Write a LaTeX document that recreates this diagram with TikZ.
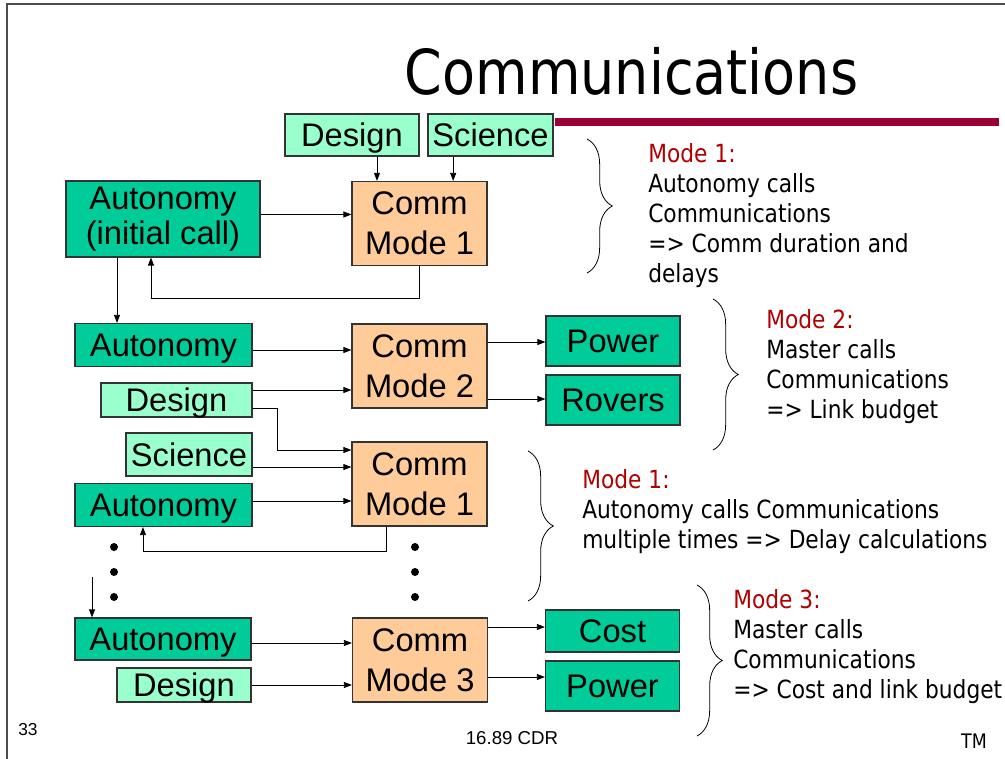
\documentclass[tikz,border=0pt]{standalone}
\usepackage{fontspec}
\setmainfont{Liberation Sans}
\newfontfamily\tahoma[FakeStretch=0.87]{DejaVu Sans}
\usetikzlibrary{arrows.meta,decorations.pathreplacing}
\definecolor{dkgreen}{HTML}{00CC99}
\definecolor{ltgreen}{HTML}{99FFCC}
\definecolor{commorange}{HTML}{FFCC99}
\definecolor{modered}{HTML}{B00000}
\definecolor{barred}{HTML}{990033}
\begin{document}
\begin{tikzpicture}[x=0.75pt,y=-0.75pt,
	box/.style={draw=black!80,line width=0.9pt,inner sep=0,align=center,
		font=\fontsize{24.5}{30}\selectfont},
	one/.style={text height=17.5pt,text depth=0pt},
	dkbox/.style={box,fill=dkgreen},
	ltbox/.style={box,fill=ltgreen,one},
	commbox/.style={box,fill=commorange,minimum width=101.25pt,minimum height=63pt},
	sz/.style 2 args={minimum width=#1,minimum height=#2},
	arr/.style={-{Triangle[length=6pt,width=4.5pt]},line width=0.6pt},
	brc/.style={decorate,decoration={brace,amplitude=19pt},line width=0.6pt},
	note/.style={anchor=north west,inner sep=0,align=left,
		font=\tahoma\fontsize{18.75}{22.5}\selectfont}]
\useasboundingbox (0,0) rectangle (1005,759);
\draw[black!70,line width=0.8pt] (7,759) -- (7,4) -- (1005,4);
\fill[barred] (555,118) rectangle (999,126);
\node[anchor=base,font=\tahoma\fontsize{46.5}{50}\selectfont] (title) at (631.5,95) {Communications};

\node[ltbox,sz={100.5pt}{31.5pt}] (dsg1) at (352,135) {Design};
\node[ltbox,sz={93.75pt}{31.5pt}] (sci1) at (490.5,135) {Science};
\node[dkbox,sz={145.5pt}{57pt},font=\fontsize{24.5}{26.25}\selectfont] (aut0) at (163,219) {Autonomy\\(initial call)};
\node[commbox] (cm1) at (419.5,223.5) {Comm\\Mode 1};
\draw[arr] ([xshift=18.75pt]dsg1.south) -- ([xshift=18.75pt]dsg1.south |- cm1.north);
\draw[arr] ([xshift=-28pt]sci1.south) -- ([xshift=-28pt]sci1.south |- cm1.north);
\draw[arr] ([yshift=3.4pt]aut0.east) -- ([yshift=3.4pt]aut0.east -| cm1.west);
\draw[arr] (cm1.south) -- ++(0,32) -| ([xshift=-9pt]aut0.south);

\node[dkbox,one,sz={132.75pt}{32.25pt}] (aut1) at (163.5,345) {Autonomy};
\node[ltbox,sz={113.25pt}{25.5pt}] (dsg2) at (176.5,400) {Design};
\node[commbox] (cm2) at (419.5,366) {Comm\\Mode 2};
\node[dkbox,one,sz={100.5pt}{37.5pt}] (pwr1) at (613,341) {Power};
\node[dkbox,one,sz={100.5pt}{37.5pt}] (rov) at (613,400) {Rovers};
\draw[arr] ([xshift=-34.5pt]aut0.south) -- ([xshift=-34.5pt]aut0.south |- aut1.north);
\draw[arr] ([yshift=-3.75pt]aut1.east) -- ([yshift=-3.75pt]aut1.east -| cm2.west);
\draw[arr] ([yshift=7.5pt]dsg2.east) -- ([yshift=7.5pt]dsg2.east -| cm2.west);
\draw[arr] ([yshift=18pt]cm2.east) -- ([yshift=18pt]cm2.east -| pwr1.west);
\draw[arr] ([yshift=-24.75pt]cm2.east) -- ([yshift=-24.75pt]cm2.east -| rov.west);

\node[ltbox,sz={94.5pt}{32.25pt}] (sci2) at (189,454.5) {Science};
\node[dkbox,one,sz={132.75pt}{32.25pt}] (aut2) at (163.5,505) {Autonomy};
\node[commbox] (cm1b) at (419.5,484) {Comm\\Mode 1};
\draw[arr] ([yshift=-6pt]dsg2.east) -- ++(25,0) |- ([yshift=25.5pt]cm1b.west);
\draw[arr] ([yshift=-9.4pt]sci2.east) -- ([yshift=-9.4pt]sci2.east -| cm1b.west);
\draw[arr] ([yshift=3pt]aut2.east) -- ([yshift=3pt]aut2.east -| cm1b.west);
\draw[arr] ([xshift=-25pt]cm1b.south) -- ++(0,25) -| ([xshift=-15.4pt]aut2.south);
\foreach \y in {547,572,597} {
	\fill (114,\y) circle[radius=3pt];
	\fill (415,\y) circle[radius=3pt];
}

\node[dkbox,one,sz={132pt}{31.5pt}] (aut3) at (163,639) {Autonomy};
\node[ltbox,sz={100.5pt}{25.5pt}] (dsg3) at (184,685) {Design};
\node[commbox] (cm3) at (420,660) {Comm\\Mode 3};
\node[dkbox,one,sz={100.5pt}{31.5pt}] (cost) at (612.5,631) {Cost};
\node[dkbox,one,sz={100.5pt}{37.5pt}] (pwr2) at (612.5,686) {Power};
\coordinate (dn) at (92,577);
\draw[arr] (dn) -- (dn |- aut3.north);
\draw[arr] ([yshift=-3pt]aut3.east) -- ([yshift=-3pt]aut3.east -| cm3.west);
\draw[arr] (dsg3.east) -- (dsg3.east -| cm3.west);
\draw[arr] ([yshift=24.75pt]cm3.east) -- ([yshift=24.75pt]cm3.east -| cost.west);
\draw[arr] ([yshift=-12.75pt]cm3.east) -- ([yshift=-12.75pt]cm3.east -| pwr2.west);

\draw[brc] (587,139) -- (587,273);
\draw[brc] (713,299) -- (713,450);
\draw[brc] (528,451) -- (528,601);
\draw[brc] (697,585) -- (697,736);
\node[note] (n1) at (648,143) {\textcolor{modered}{Mode 1:}\\Autonomy calls\\Communications\\=> Comm duration and\\delays};
\node[note] (n2) at (766,309) {\textcolor{modered}{Mode 2:}\\Master calls\\Communications\\=> Link budget};
\node[note] (n3) at (582,469) {\textcolor{modered}{Mode 1:}\\Autonomy calls Communications\\multiple times => Delay calculations};
\node[note] (n4) at (733,589) {\textcolor{modered}{Mode 3:}\\Master calls\\Communications\\=> Cost and link budget};

\node[anchor=base,font=\fontsize{13}{15}\selectfont] (pg) at (28,735) {33};
\node[anchor=base,font=\fontsize{14}{16}\selectfont] (cdr) at (512,744) {16.89 CDR};
\node[anchor=base,font=\tahoma\fontsize{15}{17}\selectfont] (tm) at (974,748) {TM};
\end{tikzpicture}
\end{document}
